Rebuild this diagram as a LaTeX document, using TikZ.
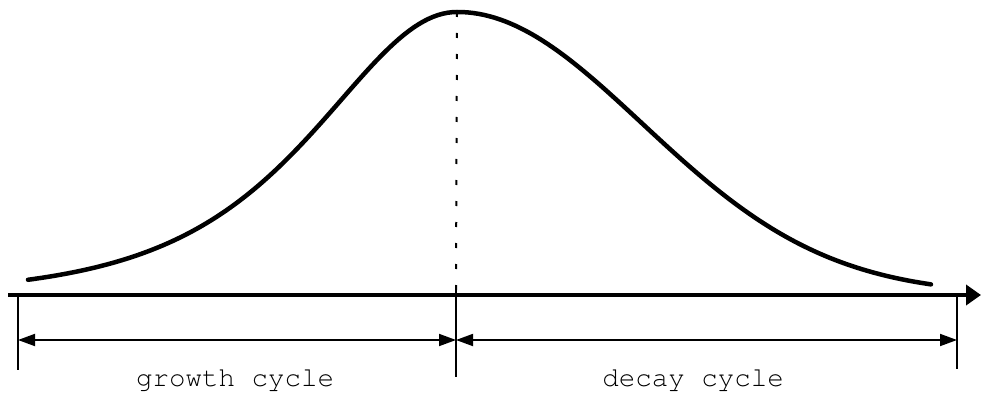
\documentclass[tikz,border=0pt]{standalone}
\usepackage[T1]{fontenc}
\usepackage{fontspec}
\usetikzlibrary{arrows.meta}

\newcommand\courierfont{\fontencoding{T1}\fontfamily{pcr}\selectfont}

\tikzset{
    axisline/.style={line width=4.5pt, -{Triangle[length=15pt,width=20pt]}},
    curveline/.style={line width=4.5pt, line cap=round},
    tickline/.style={line width=2pt},
    spanline/.style={line width=1.8pt, {Triangle[length=17pt,width=12pt]}-{Triangle[length=17pt,width=12pt]}},
    peakline/.style={line width=2pt, dash pattern=on 5pt off 16pt},
    cyclelabel/.style={font=\courierfont\fontsize{27.5}{30}\selectfont, inner sep=0pt, anchor=base}
}

\begin{document}
\begin{tikzpicture}[x=1pt, y=-1pt]

            \useasboundingbox (0,0) rectangle (981,401);

            % Key points
            \coordinate (axisstart) at (8,295);
            \coordinate (axisend)   at (981,295);
            \coordinate (peak)      at (457,12);
            \coordinate (peakfoot)  at (456,290);

            % Axis
            \draw[axisline] (axisstart) -- (axisend);

            % Curve: steeper growth, longer decay
            \draw[curveline]
                plot[domain=-429:0, samples=90] ({457+\x}, {295-283*exp(-1.3*ln(cosh(\x/146)))})
                -- plot[domain=0:474, samples=90] ({457+\x}, {295-283*exp(-0.5*(\x/185)*(\x/185))});

            % Peak marker
            \draw[peakline] (peak) -- (peakfoot);

            % Ticks
            \foreach \name/\x/\top/\bot in {lefttick/18/295/370, midtick/456/285/377, righttick/957/295/369} {
                \coordinate (\name top) at (\x,\top);
                \coordinate (\name bot) at (\x,\bot);
                \coordinate (\name) at (\x,340);
                \draw[tickline] (\name top) -- (\name bot);
            }

            % Cycle spans
            \draw[spanline] (lefttick) -- (midtick);
            \draw[spanline] (midtick) -- (righttick);

            % Labels
            \node[cyclelabel] (growth) at (235,386) {growth cycle};
            \node[cyclelabel] (decay)  at (693,386) {decay cycle};

\end{tikzpicture}
\end{document}
